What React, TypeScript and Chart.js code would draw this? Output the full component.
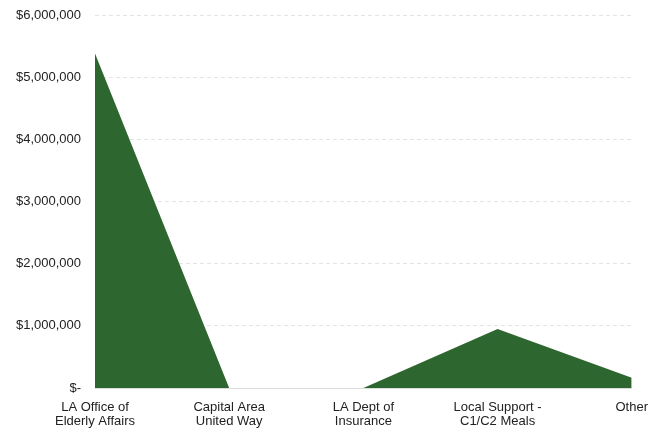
import React, { useEffect, useRef } from "react";
import { Chart, registerables } from "chart.js";

Chart.register(...registerables);

const categories: string[][] = [
  ["LA Office of", "Elderly Affairs"],
  ["Capital Area", "United Way"],
  ["LA Dept of", "Insurance"],
  ["Local Support -", "C1/C2 Meals"],
  ["Other"],
];
const funding: number[] = [5380000, 0, 0, 950000, 165000];
const yTicks: number[] = [0, 1000000, 2000000, 3000000, 4000000, 5000000, 6000000];

function fmt(v: number): string {
  if (v === 0) return "$-";
  return "$" + v.toLocaleString("en-US");
}

export default function App() {
  const ref = useRef<HTMLCanvasElement | null>(null);
  useEffect(() => {
    document.body.style.margin = "0";
    if (!ref.current) return;
    const chart = new Chart(ref.current, {
      type: "line",
      data: {
        labels: categories,
        datasets: [
          {
            data: funding,
            fill: "origin",
            backgroundColor: "#2e6630",
            borderColor: "#2e6630",
            borderWidth: 0,
            pointRadius: 0,
            tension: 0,
          },
        ],
      },
      options: {
        animation: false,
        responsive: false,
        maintainAspectRatio: false,
        plugins: { legend: { display: false }, tooltip: { enabled: false } },
        layout: { padding: { top: 15, right: 28, bottom: 0, left: 0 } },
        scales: {
          x: {
            offset: false,
            afterFit: (s: any) => {
              s.height = 44;
            },
            grid: { display: false, drawTicks: false },
            border: { display: true, color: "#dcdcdc" },
            ticks: {
              color: "#222",
              font: { family: "'Liberation Sans', Arial, sans-serif", size: 13, lineHeight: 1.1 },
              maxRotation: 0,
              autoSkip: false,
              padding: 12,
            },
          },
          y: {
            min: 0,
            max: 6000000,
            afterBuildTicks: (s: any) => {
              s.ticks = yTicks.map((v) => ({ value: v }));
            },
            afterFit: (s: any) => {
              s.width = 95;
              s.paddingTop = 0;
              s.paddingBottom = 0;
            },
            grid: {
              color: "#e4e4e4",
              drawTicks: false,
            },
            border: { display: false, dash: [4, 3] },
            ticks: {
              color: "#222",
              font: { family: "'Liberation Sans', Arial, sans-serif", size: 13 },
              padding: 14,
              callback: (v: any) => fmt(Number(v)),
            },
          },
        },
      },
    });
    return () => chart.destroy();
  }, []);
  return (
    <div style={{ width: 660, height: 432 }}>
      <canvas ref={ref} width={660} height={432} style={{ width: 660, height: 432 }} />
    </div>
  );
}
